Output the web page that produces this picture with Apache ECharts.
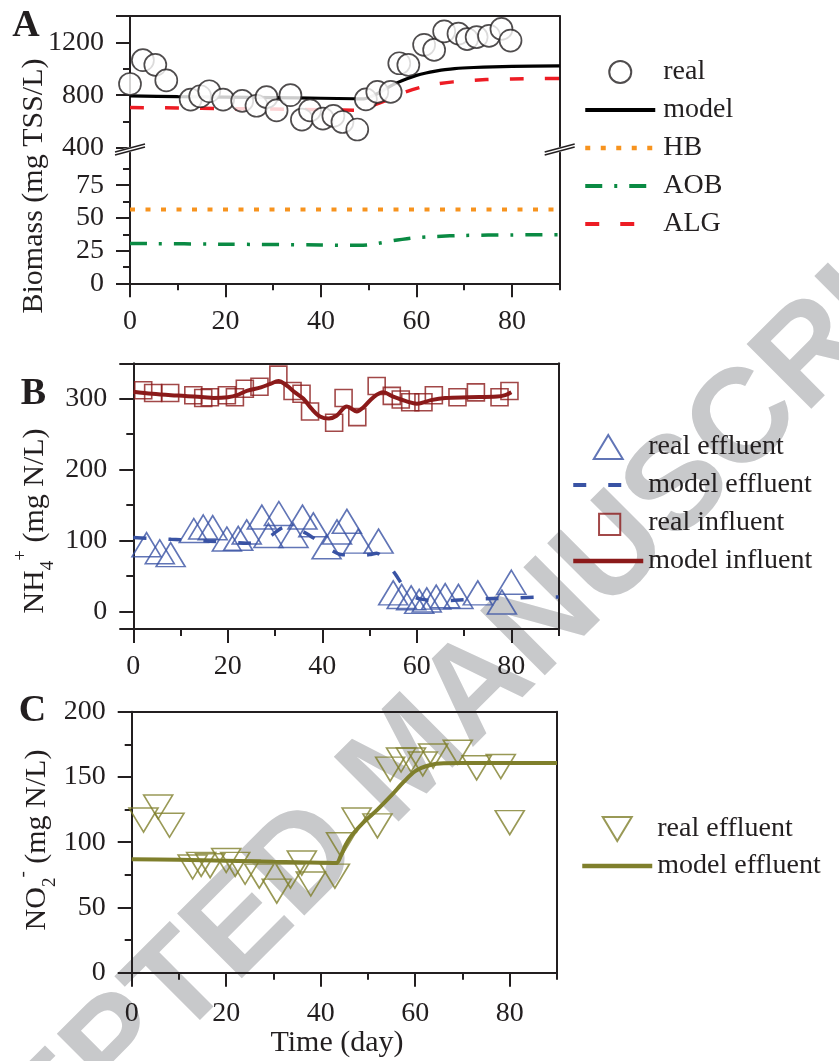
<!DOCTYPE html>
<html><head><meta charset="utf-8">
<script src="https://cdn.jsdelivr.net/npm/echarts@6/dist/echarts.min.js"></script>
<style>html,body{margin:0;padding:0;background:#fff}#c{width:839px;height:1061px}</style>
</head><body><div id="c"></div>
<script>
// ---------------- DATA ----------------
// Panel A : biomass
const aRealDays = [0, 2.7, 5.3, 7.6, 12.7, 14.7, 16.6, 19.5, 23.5, 26.5, 28.6, 30.7, 33.6, 36, 37.7, 40.4, 42.6, 44.5, 47.6, 49.4, 51.8, 54.6, 56.4, 58.3, 61.6, 63.7, 65.8, 68.8, 70.6, 72.6, 75.2, 77.8, 79.7];
const aRealBiomass = [885, 1065, 1030, 912, 767, 792, 830, 767, 757, 720, 785, 685, 800, 615, 685, 622, 643, 597, 540, 768, 825, 825, 1042, 1029, 1182, 1143, 1283, 1266, 1225, 1240, 1250, 1302, 1214];
const aModelDays = [0, 10, 20, 30, 40, 47, 49, 50, 52, 54, 56, 58, 60, 62, 64, 66, 68, 72, 76, 80, 90];
const aModel = [795, 789, 785, 781, 777, 773, 772, 782, 815, 858, 895, 925, 950, 968, 982, 994, 1002, 1010, 1015, 1018, 1022];
const aAlgDays = [0, 10, 20, 30, 40, 49, 51, 53.8, 57.2, 60.7, 64.2, 67.7, 74.6, 80, 90];
const aAlg = [707, 703, 699, 695, 690, 686, 724, 762, 818, 858, 884, 901, 919, 923, 927];
const aHbDays = [0, 30, 60, 90];
const aHb = [56.5, 56.5, 56.5, 56.5];
const aAobDays = [0, 20, 40, 48, 50, 52, 54, 56, 58, 60, 64, 70, 80, 90];
const aAob = [30.5, 29.9, 29.3, 29.0, 29.4, 30.6, 31.9, 33.1, 34.1, 34.9, 35.8, 36.6, 37.0, 37.2];

// Panel B : NH4+
const bInfDays = [-0.8, 2.1, 4.2, 7.8, 12.7, 14.8, 16.2, 19.8, 21.5, 23.6, 26.7, 30.7, 33.7, 35.6, 37.4, 42.5, 44.5, 47.4, 51.5, 54.7, 56.6, 58.6, 61.4, 63.6, 68.6, 72.5, 77.5, 79.6];
const bInfReal = [312, 312, 308, 308, 305, 301, 302, 305, 302, 314, 317, 334, 311, 307, 282, 266, 301, 274, 318, 304, 299, 295, 295, 305, 302, 309, 302, 311];
const bInfModelDays = [0, 4, 8, 11, 15, 17, 20, 22, 24, 27, 29, 30.7, 32.4, 34.2, 36, 37.7, 39.5, 41.4, 43, 45.2, 47.3, 48.7, 50.8, 52.9, 55, 58, 60, 63, 66, 71, 77, 78.7, 80];
const bInfModel = [310, 307, 305, 304, 302, 301, 302, 305, 311, 316, 321, 325, 319, 309, 300, 286, 275, 272, 276, 289, 282, 288, 302, 309, 303, 296, 293, 298, 301, 302, 303, 305, 309];
const bEffDays = [-0.1, 2.8, 5.6, 7.9, 12.8, 14.8, 16.8, 19.8, 22.2, 24, 27.2, 28.6, 30.8, 33.9, 35.8, 38.1, 40.9, 43.1, 45.2, 47.6, 51.9, 55, 56.8, 58.8, 60.5, 62.1, 64.1, 66, 68.8, 72.9, 78, 80];
const bEffReal = [90, 94, 84, 80, 114, 119, 118, 102, 103, 112, 133, 107, 138, 107, 133, 122, 91, 112, 127, 99, 99, 26, 21, 19, 14, 16, 20, 22, 21, 26, 13, 41];
const bEffModelDays = [0, 3, 8, 12, 16, 20, 24, 27, 29, 31, 32.5, 34, 36, 38, 40, 42, 44, 46, 48, 50, 51.5, 53, 54, 55.5, 57, 59.3, 62, 65, 68, 72, 76, 80, 87, 90];
const bEffModel = [104, 103, 101.5, 100.5, 99, 98, 96, 100, 106, 116, 119, 116, 112, 104, 95, 86, 80, 79.5, 79, 80, 82, 75, 66, 52, 37, 21, 16, 14.8, 15.5, 17, 18, 18.6, 20, 20];

// Panel C : NO2-
const cEffDays = [-0.4, 2.5, 5.6, 8, 12.9, 14.7, 16.6, 20, 21.9, 24, 27, 30.7, 33.6, 36, 37.9, 43, 44.3, 47.6, 52, 54.7, 57, 59.1, 61.6, 63.8, 69, 73, 78.1, 80];
const cEffReal = [114, 117, 127, 113, 81, 83, 82, 86, 83, 77, 74, 62.5, 74, 84, 68, 74, 98, 117, 112.5, 156, 163, 163, 160, 166, 169, 157, 158, 115];
const cModelDays = [0, 10, 20, 30, 40, 43.3, 44.3, 45.3, 46.5, 49, 52, 55, 57.5, 60, 63, 66, 70, 80, 90];
const cModel = [87, 86.5, 85.8, 85, 84.3, 84, 90, 98, 105, 115, 125, 136, 146, 154.5, 159, 160.5, 160.6, 160.6, 160.6];

// Axis ticks / labels
const xMajor = [0, 20, 40, 60, 80];
const xMinor = [10, 30, 50, 70, 90];
const aUpMajor = [400, 800, 1200, 1400], aUpLabels = [400, 800, 1200], aUpMinor = [600, 1000];
const aLoMajor = [0, 25, 50, 75], aLoLabels = [0, 25, 50, 75], aLoMinor = [12.5, 37.5, 62.5, 87.5];
const bMajor = [-25, 0, 100, 200, 300, 350], bLabels = [0, 100, 200, 300], bMinor = [50, 150, 250];
const cMajor = [0, 50, 100, 150, 200], cLabels = [0, 50, 100, 150, 200], cMinor = [25, 75, 125, 175];

// ---------------- STYLE ----------------
const INK = '#231f20';
const SERIF = '"Liberation Serif","Times New Roman",Times,serif';
const zip = (xs, ys) => xs.map((x, i) => [x, ys[i]]);

const grids = [
  {left: 130, top: 16, width: 429.7, height: 132},       // A upper
  {left: 130, top: 152.5, width: 429.7, height: 130.8},  // A lower
  {left: 133.3, top: 363.3, width: 425.3, height: 265.7},// B
  {left: 131.7, top: 711.7, width: 425.3, height: 261}   // C
].map(g => Object.assign({outerBoundsMode: 'none', containLabel: false}, g));

const xAxes = [], yAxes = [];
function base(gridIndex, position, min, max) {
  return {type: 'value', gridIndex, position, min, max, splitLine: {show: false},
    axisLine: {show: false, onZero: false}, axisTick: {show: false}, axisLabel: {show: false}};
}
function line(a) { a.axisLine = {show: true, onZero: false, lineStyle: {color: INK, width: 2}}; return a; }
function ticks(a, vals, len) { a.axisTick = {show: true, length: len, customValues: vals, lineStyle: {color: INK, width: 2}}; return a; }
function labels(a, vals, margin) { a.axisLabel = {show: true, customValues: vals, margin, fontSize: 28, fontFamily: SERIF, color: INK, formatter: v => String(v)}; return a; }
const addX = a => (xAxes.push(a), xAxes.length - 1);
const addY = a => (yAxes.push(a), yAxes.length - 1);

// A upper
const xAU = addX(line(base(0, 'top', 0, 90)));
const yAU = addY(labels(ticks(line(base(0, 'left', 400, 1400)), aUpMajor, 14), aUpLabels, 26));
addY(ticks(base(0, 'left', 400, 1400), aUpMinor, 7));
addY(line(base(0, 'right', 400, 1400)));
// A lower
const xAL = addX(labels(ticks(line(base(1, 'bottom', 0, 90)), xMajor, 14), xMajor, 24));
addX(ticks(base(1, 'bottom', 0, 90), xMinor, 7));
const yAL = addY(labels(ticks(line(base(1, 'left', 0, 100)), aLoMajor, 14), aLoLabels, 26));
addY(ticks(base(1, 'left', 0, 100), aLoMinor, 7));
addY(line(base(1, 'right', 0, 100)));
// B
const xB = addX(labels(ticks(line(base(2, 'bottom', 0, 90)), xMajor, 14), xMajor, 24));
addX(ticks(base(2, 'bottom', 0, 90), xMinor, 7));
addX(line(base(2, 'top', 0, 90)));
const yB = addY(labels(ticks(line(base(2, 'left', -25, 350)), bMajor, 14), bLabels, 26));
addY(ticks(base(2, 'left', -25, 350), bMinor, 7));
addY(line(base(2, 'right', -25, 350)));
// C
const xC = addX(labels(ticks(line(base(3, 'bottom', 0, 90)), xMajor, 14), xMajor, 27));
addX(ticks(base(3, 'bottom', 0, 90), xMinor, 7));
addX(line(base(3, 'top', 0, 90)));
const yC = addY(labels(ticks(line(base(3, 'left', 0, 200)), cMajor, 14), cLabels, 26));
addY(ticks(base(3, 'left', 0, 200), cMinor, 7));
addY(line(base(3, 'right', 0, 200)));

const RED = '#ed1c24', ORANGE = '#f7931e', GREEN = '#0a8a43', BLUE = '#3953a4', MAROON = '#8b1a1a', OLIVE = '#7f7f2c';
const CLEAR = 'rgba(255,255,255,0)';

const series = [
  {name: 'model', type: 'line', xAxisIndex: xAU, yAxisIndex: yAU, data: zip(aModelDays, aModel), symbol: 'none', smooth: 0.3,
    lineStyle: {color: '#000', width: 3.2}, itemStyle: {color: '#000'}, z: 2},
  {name: 'ALG', type: 'line', xAxisIndex: xAU, yAxisIndex: yAU, data: zip(aAlgDays, aAlg), symbol: 'none', smooth: 0.3,
    lineStyle: {color: RED, width: 3.5, type: [14, 21]}, itemStyle: {color: RED}, z: 2},
  {name: 'real', type: 'scatter', xAxisIndex: xAU, yAxisIndex: yAU, data: zip(aRealDays, aRealBiomass), symbol: 'circle', symbolSize: 22,
    itemStyle: {color: '#fff', borderColor: INK, borderWidth: 1.7}, z: 3},
  {name: 'HB', type: 'line', xAxisIndex: xAL, yAxisIndex: yAL, data: zip(aHbDays, aHb), symbol: 'none',
    lineStyle: {color: ORANGE, width: 4, type: [5, 10.5]}, itemStyle: {color: ORANGE}, z: 2},
  {name: 'AOB', type: 'line', xAxisIndex: xAL, yAxisIndex: yAL, data: zip(aAobDays, aAob), symbol: 'none', smooth: 0.3,
    lineStyle: {color: GREEN, width: 3.5, type: [17, 12, 3, 12]}, itemStyle: {color: GREEN}, z: 2},

  {name: 'model influent', type: 'line', xAxisIndex: xB, yAxisIndex: yB, data: zip(bInfModelDays, bInfModel), symbol: 'none', smooth: 0.35,
    lineStyle: {color: MAROON, width: 4}, itemStyle: {color: MAROON}, z: 2},
  {name: 'model effluent', type: 'line', xAxisIndex: xB, yAxisIndex: yB, data: zip(bEffModelDays, bEffModel), symbol: 'none', smooth: 0.3,
    lineStyle: {color: BLUE, width: 3.5, type: [13, 22]}, itemStyle: {color: BLUE}, z: 2},
  {name: 'real influent', type: 'scatter', xAxisIndex: xB, yAxisIndex: yB, data: zip(bInfDays, bInfReal), symbol: 'rect', symbolSize: 17,
    itemStyle: {color: CLEAR, borderColor: MAROON, borderWidth: 1.6}, z: 3},
  {name: 'real effluent', type: 'scatter', xAxisIndex: xB, yAxisIndex: yB, data: zip(bEffDays, bEffReal), symbol: 'triangle', symbolSize: [29, 24],
    itemStyle: {color: CLEAR, borderColor: BLUE, borderWidth: 1.6}, z: 3},

  {name: 'C model effluent', type: 'line', xAxisIndex: xC, yAxisIndex: yC, data: zip(cModelDays, cModel), symbol: 'none', smooth: 0.3,
    lineStyle: {color: OLIVE, width: 4}, itemStyle: {color: OLIVE}, z: 2},
  {name: 'C real effluent', type: 'scatter', xAxisIndex: xC, yAxisIndex: yC, data: zip(cEffDays, cEffReal), symbol: 'triangle', symbolSize: [29, 24], symbolRotate: 180,
    itemStyle: {color: CLEAR, borderColor: OLIVE, borderWidth: 1.6}, z: 3}
];

// legend icons: lines without a marker, hollow markers kept at their own aspect
const lineItem = (name, width) => ({name, itemStyle: {opacity: 0}, lineStyle: {width}});
const UP_TRI = 'path://M14.5,0L29,24L0,24Z';
const DOWN_TRI = 'path://M0,0L29,0L14.5,24Z';
const SQUARE = 'path://M0,0L0,0M2.5,2.5L21.5,2.5L21.5,21.5L2.5,21.5Z';
const legendText = {fontSize: 28, fontFamily: SERIF, color: INK, lineHeight: 28};
const legends = [
  {orient: 'vertical', left: 583, top: 58, padding: 0, itemWidth: 70, itemHeight: 22, itemGap: 10, selectedMode: false, symbolKeepAspect: true,
    data: ['real', lineItem('model', 4), lineItem('HB', 4.5), lineItem('AOB', 4), lineItem('ALG', 4)],
    textStyle: Object.assign({padding: [0, 0, 0, 3]}, legendText)},
  {orient: 'vertical', left: 571, top: 433, padding: 0, itemWidth: 70, itemHeight: 24, itemGap: 10, selectedMode: false, symbolKeepAspect: true,
    data: [{name: 'real effluent', icon: UP_TRI}, lineItem('model effluent', 4), {name: 'real influent', icon: SQUARE}, lineItem('model influent', 4.5)], textStyle: legendText},
  {orient: 'vertical', left: 580, top: 815, padding: 0, itemWidth: 70, itemHeight: 24, itemGap: 9, selectedMode: false, symbolKeepAspect: true,
    data: [{name: 'C real effluent', icon: DOWN_TRI, iconRotate: 0}, lineItem('C model effluent', 4.5)], textStyle: legendText, formatter: n => n.replace(/^C /, '')}
];

// break marks for panel A
function breakMark(cx, cy) {
  const dx = 15, dy = 4, gap = 3;
  return [
    {type: 'polygon', z: 50, shape: {points: [[cx - dx, cy + dy - gap / 2 - 1], [cx + dx, cy - dy - gap / 2 - 1], [cx + dx, cy - dy + gap / 2 + 1], [cx - dx, cy + dy + gap / 2 + 1]]}, style: {fill: '#fff'}},
    {type: 'line', z: 51, shape: {x1: cx - dx, y1: cy + dy - gap / 2, x2: cx + dx, y2: cy - dy - gap / 2}, style: {stroke: INK, lineWidth: 1.6}},
    {type: 'line', z: 51, shape: {x1: cx - dx, y1: cy + dy + gap / 2, x2: cx + dx, y2: cy - dy + gap / 2}, style: {stroke: INK, lineWidth: 1.6}}
  ];
}

const rich = {
  m: {fontSize: 30, fontFamily: SERIF, fill: INK, lineHeight: 46},
  sub: {fontSize: 19, fontFamily: SERIF, fill: INK, verticalAlign: 'bottom', lineHeight: 19},
  sup: {fontSize: 19, fontFamily: SERIF, fill: INK, verticalAlign: 'top', lineHeight: 19}
};

const graphics = [
  {type: 'text', z: -5, x: 408, y: 760, rotation: 45 * Math.PI / 180,
    style: {text: 'ACCEPTED MANUSCRIPT', fontSize: 133, fontWeight: 'bold', fontFamily: '"Liberation Sans",Arial,sans-serif', fill: '#c8c9cb', align: 'center', verticalAlign: 'middle'}},
  {type: 'text', x: 26, y: 26, style: {text: 'A', fontSize: 38, fontWeight: 'bold', fontFamily: SERIF, fill: INK, align: 'center', verticalAlign: 'middle'}},
  {type: 'text', x: 33.5, y: 394.5, style: {text: 'B', fontSize: 38, fontWeight: 'bold', fontFamily: SERIF, fill: INK, align: 'center', verticalAlign: 'middle'}},
  {type: 'text', x: 32.5, y: 711.5, style: {text: 'C', fontSize: 38, fontWeight: 'bold', fontFamily: SERIF, fill: INK, align: 'center', verticalAlign: 'middle'}},
  {type: 'text', x: 34, y: 186, rotation: Math.PI / 2, style: {text: 'Biomass (mg TSS/L)', fontSize: 30, fontFamily: SERIF, fill: INK, align: 'center', verticalAlign: 'middle'}},
  {type: 'text', x: 35, y: 521, rotation: Math.PI / 2, style: {text: '{m|NH}{sub|4}{sup|+}{m| (mg N/L)}', rich, align: 'center', verticalAlign: 'middle'}},
  {type: 'text', x: 37, y: 840, rotation: Math.PI / 2, style: {text: '{m|NO}{sub|2}{sup|-}{m| (mg N/L)}', rich, align: 'center', verticalAlign: 'middle'}},
  {type: 'text', x: 337, y: 1043, style: {text: 'Time (day)', fontSize: 30, fontFamily: SERIF, fill: INK, align: 'center', verticalAlign: 'middle'}}
].concat(breakMark(130, 149.5), breakMark(559.7, 149.5));

const chart = echarts.init(document.getElementById('c'), null, {renderer: 'canvas'});
chart.setOption({
  animation: false,
  backgroundColor: '#fff',
  grid: grids,
  xAxis: xAxes,
  yAxis: yAxes,
  legend: legends,
  series,
  graphic: {elements: graphics}
});
</script>
</body></html>
